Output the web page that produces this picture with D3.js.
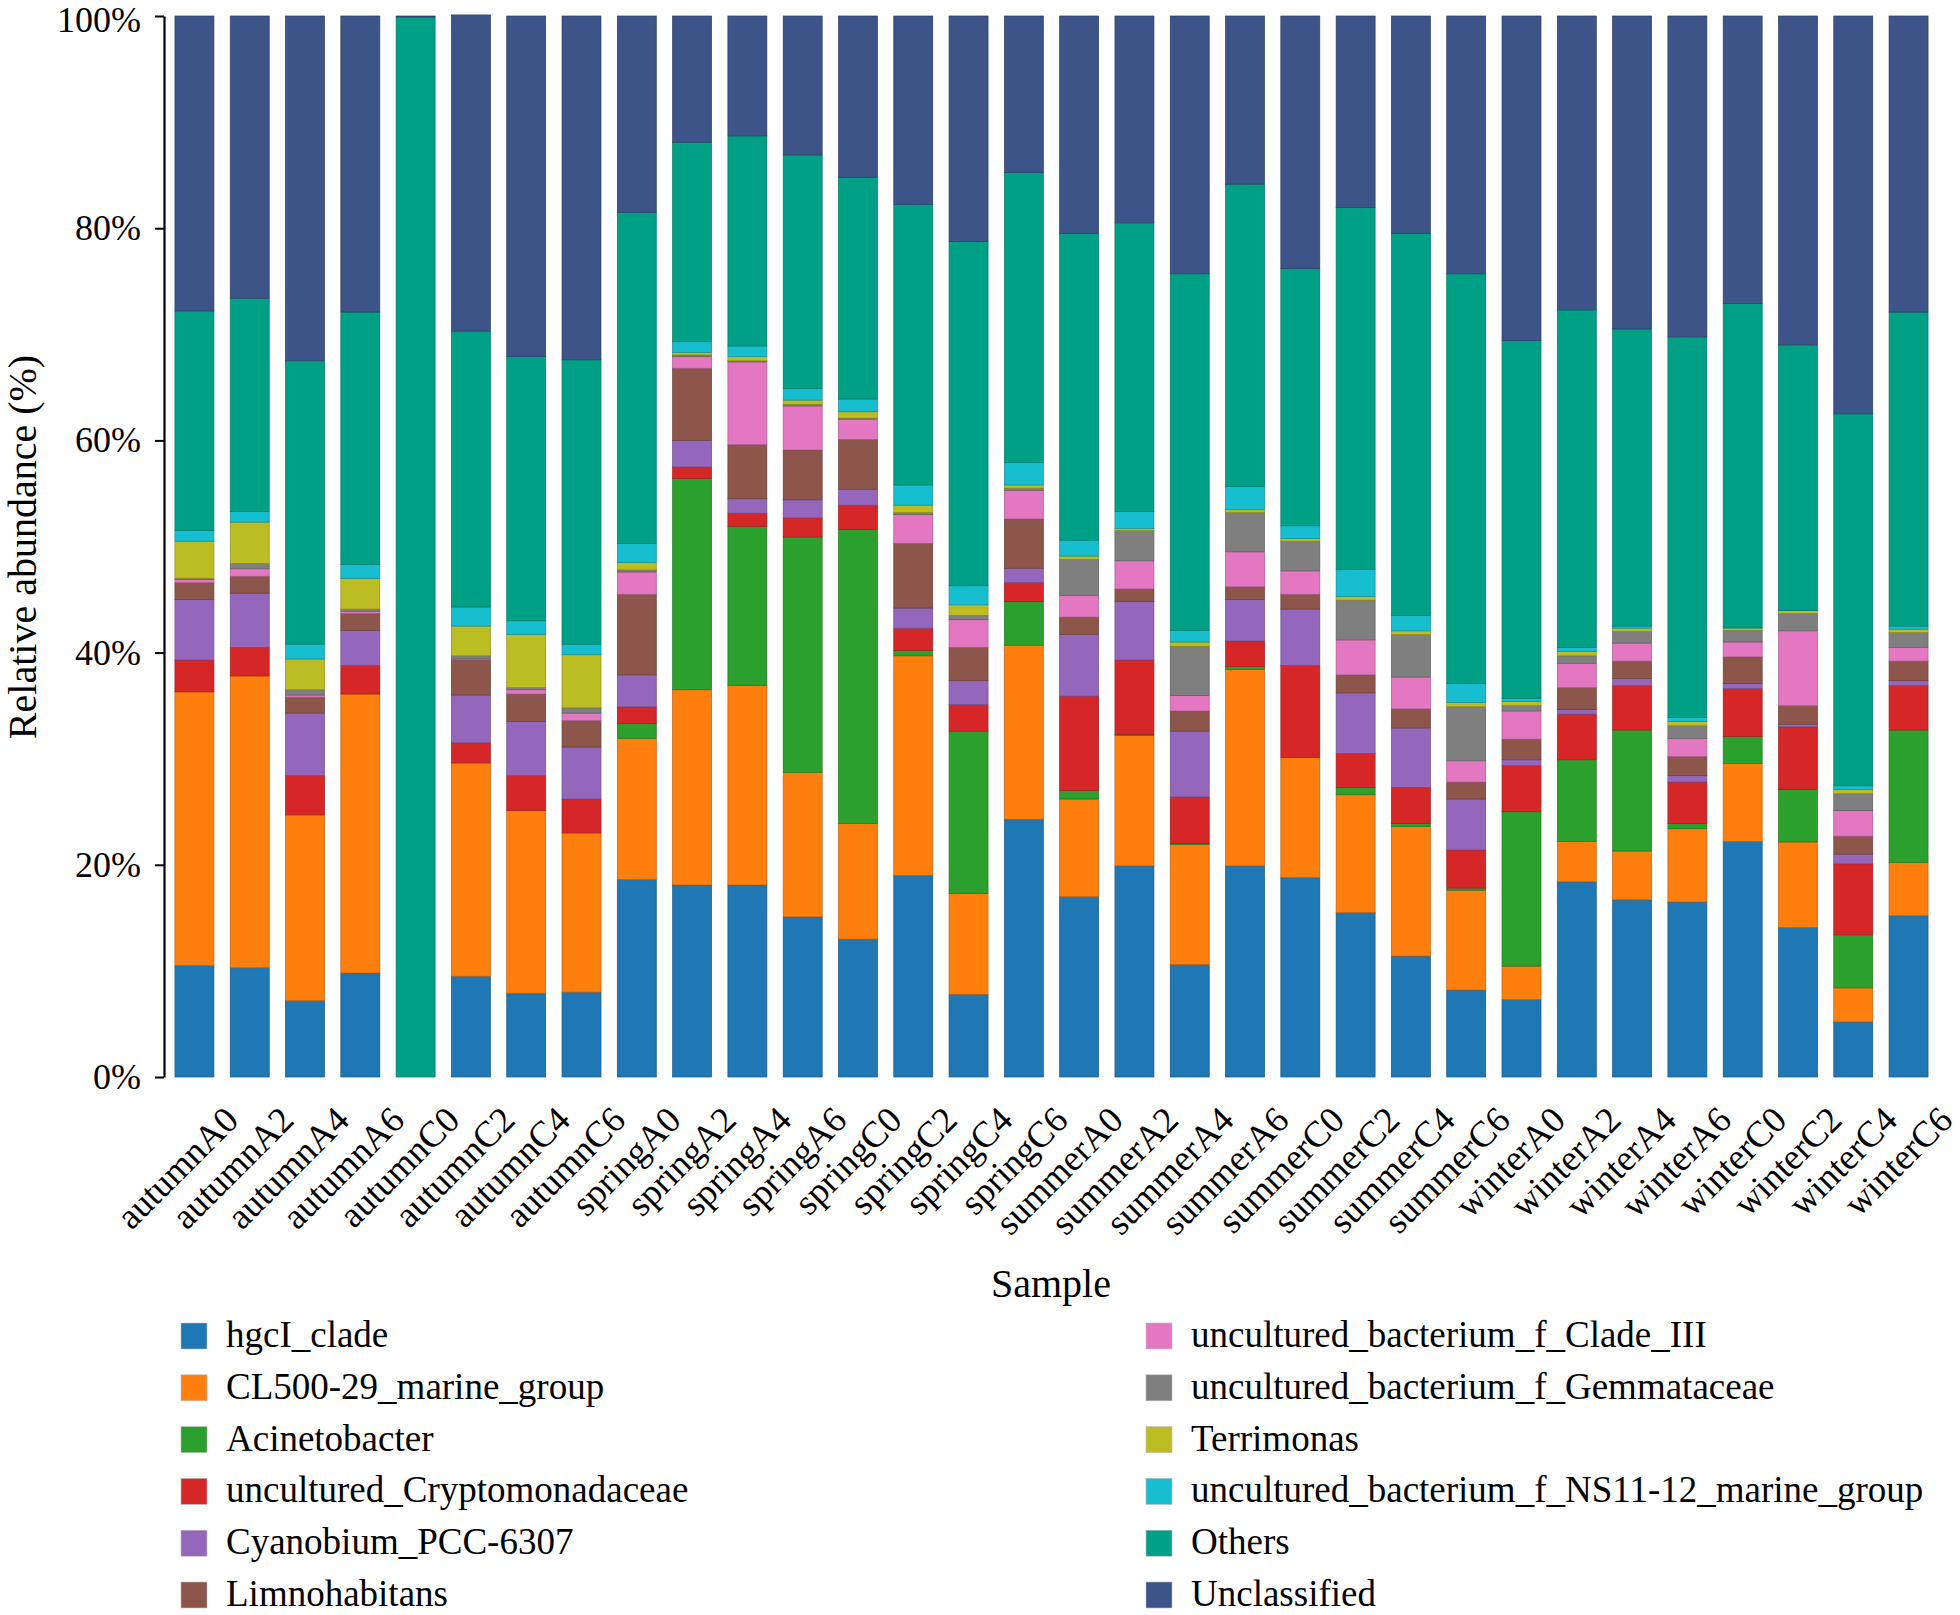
<!DOCTYPE html>
<html><head><meta charset="utf-8">
<script src="https://cdn.jsdelivr.net/npm/d3@7"></script>
<style>body{margin:0;background:#fff}</style>
</head><body><svg id="c" width="1960" height="1615" xmlns="http://www.w3.org/2000/svg"></svg>
<script>
const samples = ["autumnA0","autumnA2","autumnA4","autumnA6","autumnC0","autumnC2","autumnC4","autumnC6",
  "springA0","springA2","springA4","springA6","springC0","springC2","springC4","springC6",
  "summerA0","summerA2","summerA4","summerA6","summerC0","summerC2","summerC4","summerC6",
  "winterA0","winterA2","winterA4","winterA6","winterC0","winterC2","winterC4","winterC6"];

const seriesNames = ["hgcI_clade","CL500-29_marine_group","Acinetobacter","uncultured_Cryptomonadaceae",
  "Cyanobium_PCC-6307","Limnohabitans","uncultured_bacterium_f_Clade_III","uncultured_bacterium_f_Gemmataceae",
  "Terrimonas","uncultured_bacterium_f_NS11-12_marine_group","Others","Unclassified"];

const colors = ["#1F77B4","#FF7F0E","#2CA02C","#D62728","#9467BD","#8C564B","#E377C2","#7F7F7F","#BCBD22","#17BECF","#00A087","#3C5488"];

const yTicks = [0,20,40,60,80,100];

const hgcI = [10.5,10.3,7.2,9.8,0,9.5,7.9,8.0,18.6,18.1,18.1,15.1,13.0,19.0,7.8,24.3,17.0,19.9,10.6,19.9,18.8,15.5,11.4,8.2,7.3,18.4,16.7,16.5,22.2,14.1,5.2,15.2];
const cl500 = [25.8,27.5,17.5,26.3,0,20.1,17.2,15.0,13.3,18.4,18.8,13.6,10.9,20.7,9.5,16.4,9.2,12.3,11.3,18.5,11.3,11.1,12.2,9.4,3.15,3.8,4.6,6.9,7.35,8.05,3.2,5.0];
const acinetobacter = [0,0,0,0,0,0,0,0,1.4,19.9,15.0,22.2,27.7,0.5,15.3,4.1,0.8,0.1,0.1,0.3,0,0.7,0.3,0.2,14.55,7.7,11.4,0.5,2.55,4.95,5.0,12.5];
const cryptomonadaceae = [3.0,2.7,3.7,2.7,0,1.9,3.3,3.2,1.6,1.1,1.25,1.8,2.3,2.1,2.5,1.8,8.9,7.0,4.4,2.4,8.7,3.2,3.4,3.6,4.35,4.3,4.2,3.9,4.5,5.9,6.7,4.2];
const cyanobium = [5.7,5.1,5.9,3.3,0,4.5,5.1,4.9,3.0,2.5,1.35,1.7,1.5,1.9,2.25,1.35,5.8,5.5,6.2,3.9,5.3,5.7,5.6,4.8,0.55,0.45,0.65,0.6,0.5,0.25,0.9,0.45];
const limnohabitans = [1.6,1.6,1.5,1.6,0,3.3,2.6,2.5,7.6,6.8,5.1,4.7,4.7,6.1,3.15,4.65,1.65,1.2,1.9,1.2,1.4,1.7,1.8,1.6,1.95,2.05,1.65,1.8,2.5,1.75,1.7,1.85];
const cladeIII = [0.3,0.7,0.2,0.2,0,0.1,0.4,0.7,2.1,1.1,7.8,4.15,1.9,2.7,2.6,2.7,2.05,2.65,1.45,3.3,2.2,3.3,3.0,2.0,2.65,2.3,1.7,1.7,1.4,7.05,2.4,1.3];
const gemmataceae = [0.1,0.5,0.5,0.2,0,0.3,0.2,0.5,0.2,0.15,0.1,0.15,0.1,0.2,0.4,0.2,3.4,2.85,4.65,3.7,2.8,3.75,4.0,5.1,0.5,0.7,1.1,1.2,1.1,1.65,1.6,1.4];
const terrimonas = [3.5,3.9,2.9,2.9,0,2.8,5.0,5.0,0.7,0.25,0.4,0.4,0.6,0.7,1.0,0.3,0.3,0.2,0.4,0.3,0.25,0.35,0.35,0.4,0.4,0.4,0.3,0.4,0.2,0.25,0.4,0.3];
const ns1112 = [1.0,1.0,1.4,1.3,0,1.8,1.3,1.0,1.8,1.0,1.0,1.1,1.2,1.9,1.8,2.1,1.5,1.6,1.1,2.15,1.2,2.55,1.45,1.8,0.3,0.4,0.2,0.4,0.1,0.05,0.35,0.3];
const others = [20.7,20.1,26.7,23.8,99.9,26.0,24.9,26.8,31.2,18.8,19.8,22.0,20.9,26.45,32.45,27.35,28.9,27.2,33.6,28.5,24.25,34.1,36.0,38.6,33.7,31.8,28.0,35.85,30.5,25.0,35.05,29.6];
const unclassified = [27.8,26.6,32.5,27.9,0.1,29.8,32.1,32.4,18.5,11.9,11.3,13.1,15.2,17.75,21.25,14.75,20.5,19.5,24.3,15.85,23.8,18.05,20.5,24.3,30.6,27.7,29.5,30.25,27.1,31.0,37.5,27.9];

const seriesData = [hgcI,cl500,acinetobacter,cryptomonadaceae,cyanobium,limnohabitans,cladeIII,gemmataceae,terrimonas,ns1112,others,unclassified];

const FONT = '"Liberation Serif","Times New Roman",Times,serif';
const svg = d3.select('#c');

const x = d3.scaleBand().domain(samples).range([165, 1938]).paddingInner(0.295).paddingOuter(0.18);
const y = d3.scaleLinear().domain([0, 100]).range([1077, 16]);
const color = d3.scaleOrdinal().domain(seriesNames).range(colors);

const rows = samples.map((s, i) => {
  const o = {sample: s};
  seriesNames.forEach((n, j) => { o[n] = seriesData[j][i]; });
  return o;
});
const stacked = d3.stack().keys(seriesNames)(rows);

svg.append('g').selectAll('g').data(stacked).join('g')
  .attr('fill', d => color(d.key))
  .attr('stroke', d => d3.color(color(d.key)).darker(0.8))
  .attr('stroke-width', 0.7)
  .selectAll('rect').data(d => d.filter(v => v[1] - v[0] > 0)).join('rect')
  .attr('x', d => x(d.data.sample))
  .attr('width', x.bandwidth())
  .attr('y', d => y(d[1]))
  .attr('height', d => y(d[0]) - y(d[1]));

// y axis
const yAxis = svg.append('g').attr('transform', 'translate(164,0)')
  .call(d3.axisLeft(y).tickValues(yTicks).tickFormat(d => d + '%').tickSize(9).tickSizeOuter(0).tickPadding(14));
yAxis.select('.domain').attr('stroke', '#000').attr('stroke-width', 2.2);
yAxis.selectAll('.tick line').attr('stroke', '#000').attr('stroke-width', 2);
yAxis.selectAll('.tick text').attr('font-family', FONT).attr('font-size', 36).attr('fill', '#000')
  .attr('dy', d => d === 100 ? '0.42em' : '0.32em');

// x labels
svg.append('g').selectAll('text').data(samples).join('text')
  .attr('transform', d => `translate(${x(d) + x.bandwidth() / 2 + 46},1122) rotate(-45)`)
  .attr('text-anchor', 'end')
  .attr('font-family', FONT).attr('font-size', 36.5).attr('fill', '#000')
  .text(d => d);

// axis titles
svg.append('text').attr('transform', 'translate(36,547) rotate(-90)')
  .attr('text-anchor', 'middle').attr('font-family', FONT).attr('font-size', 40)
  .text('Relative abundance (%)');
svg.append('text').attr('x', 1051).attr('y', 1297)
  .attr('text-anchor', 'middle').attr('font-family', FONT).attr('font-size', 40)
  .text('Sample');

// legend
const legend = svg.append('g');
const items = legend.selectAll('g').data(seriesNames).join('g')
  .attr('transform', (d, i) => {
    const col = i < 6 ? 0 : 1;
    const row = i % 6;
    return `translate(${col === 0 ? 181 : 1146},${1323 + row * 51.8})`;
  });
items.append('rect').attr('width', 26).attr('height', 26)
  .attr('fill', d => color(d)).attr('stroke', '#bbb').attr('stroke-width', 0.6);
items.append('text').attr('x', 45).attr('y', 24)
  .attr('font-family', FONT).attr('font-size', 37).attr('fill', '#000')
  .text(d => d);
</script></body></html>
